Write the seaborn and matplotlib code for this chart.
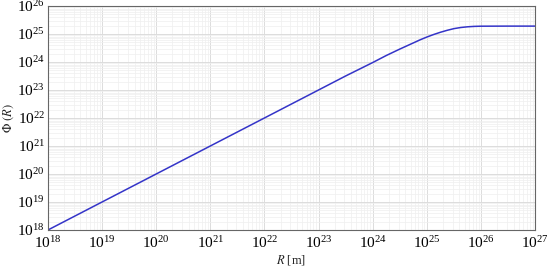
import numpy as np
import pandas as pd
import seaborn as sns
import matplotlib
matplotlib.use("Agg")
import matplotlib.pyplot as plt
from matplotlib.ticker import LogLocator, NullFormatter

# values (log10 of R and of Phi(R))
log_r = [18, 19, 20, 21, 22, 23, 23.5, 24, 24.25, 24.5, 24.75, 24.875, 25,
         25.125, 25.25, 25.375, 25.5, 25.625, 25.75, 25.875, 26, 26.5, 27]
log_phi = [18, 19, 20, 21, 22, 23, 23.5, 23.98, 24.23, 24.46, 24.68, 24.79, 24.89,
           24.98, 25.06, 25.13, 25.19, 25.23, 25.255, 25.27, 25.277, 25.28, 25.28]

x_ticks = [10.0 ** k for k in range(18, 28)]
y_ticks = [10.0 ** k for k in range(18, 27)]

df = pd.DataFrame({'R': np.power(10.0, log_r), 'Phi': np.power(10.0, log_phi)})

sns.set_style("white")
plt.rcParams['font.family'] = ['Liberation Serif', 'DejaVu Serif']
plt.rcParams['mathtext.fontset'] = 'stix'

fig = plt.figure(figsize=(5.5, 2.7), dpi=100)
ax = fig.add_axes([0.087, 0.148, 0.886, 0.83])

sns.lineplot(data=df, x='R', y='Phi', ax=ax, color='#3434c8', linewidth=1.1)

ax.set_xscale('log')
ax.set_yscale('log')
ax.set_xlim(1e18, 1e27)
ax.set_ylim(1e18, 1e26)
ax.set_xticks(x_ticks)
ax.set_yticks(y_ticks)
ax.xaxis.set_minor_locator(LogLocator(base=10, subs=np.arange(2, 10), numticks=50))
ax.yaxis.set_minor_locator(LogLocator(base=10, subs=np.arange(2, 10), numticks=50))
ax.xaxis.set_minor_formatter(NullFormatter())
ax.yaxis.set_minor_formatter(NullFormatter())

ax.grid(which='major', color='#dcdcdc', linewidth=0.7)
ax.grid(which='minor', color='#efefef', linewidth=0.5)
ax.set_axisbelow(True)

ax.tick_params(which='both', direction='in', colors='#555555', labelcolor='black',
               labelsize=11)
ax.tick_params(axis='y', pad=2)
ax.tick_params(axis='x', pad=4)
ax.tick_params(which='major', length=3, width=0.6)
ax.tick_params(which='minor', length=2, width=0.5)
for s in ax.spines.values():
    s.set_color('#666666')
    s.set_linewidth(0.8)

ax.set_xlabel(r'$R$ [m]', fontsize=9, labelpad=1)
ax.set_ylabel(r'$\Phi\ (R)$', fontsize=9, labelpad=1)

fig.savefig('out.png', dpi=100)
